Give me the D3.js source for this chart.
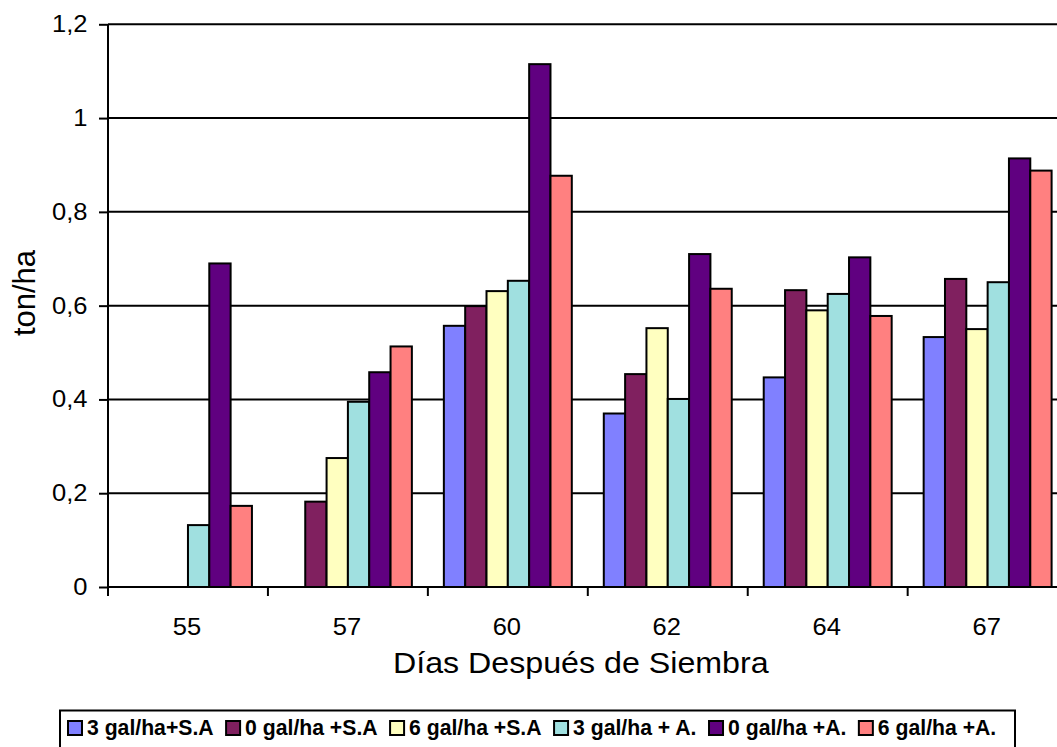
<!DOCTYPE html>
<html>
<head>
<meta charset="utf-8">
<script src="https://cdn.jsdelivr.net/npm/d3@7"></script>
<style>
  html, body { margin: 0; padding: 0; background: #fff; overflow: hidden; }
  svg { display: block; font-family: Arial, "Liberation Sans", sans-serif; }
</style>
</head>
<body>
<svg id="chart" width="1057" height="747"></svg>
<script>
// Días después de siembra
const categories = ["55", "57", "60", "62", "64", "67"];

// Treatments
const seriesNames = ["3 gal/ha+S.A", "0 gal/ha +S.A", "6 gal/ha +S.A", "3 gal/ha + A.", "0 gal/ha +A.", "6 gal/ha +A."];
const seriesColors = ["#8080ff", "#80205f", "#ffffc0", "#a0e0e0", "#600080", "#ff8080"];

// Yield (ton/ha) per treatment, one value per day; null = no bar
const s3galSA = [null, null, 0.557, 0.370, 0.447, 0.533];
const s0galSA = [null, 0.182, 0.599, 0.454, 0.633, 0.657];
const s6galSA = [null, 0.275, 0.631, 0.552, 0.590, 0.550];
const s3galA  = [0.132, 0.395, 0.653, 0.401, 0.625, 0.650];
const s0galA  = [0.690, 0.458, 1.115, 0.710, 0.703, 0.914];
const s6galA  = [0.173, 0.513, 0.877, 0.636, 0.578, 0.888];
const seriesValues = [s3galSA, s0galSA, s6galSA, s3galA, s0galA, s6galA];

const yTicks = [0, 0.2, 0.4, 0.6, 0.8, 1, 1.2];
const xTitle = "Días Después de Siembra";
const yTitle = "ton/ha";

const svg = d3.select("#chart");

const plot = { left: 108, right: 1067.6, top: 24.3, bottom: 587 };
const stretch = 1.11; // text in this chart is set slightly wide

const x = d3.scaleBand().domain(categories).range([plot.left, plot.right]).paddingInner(0).paddingOuter(0);
const xs = d3.scaleBand().domain(seriesNames).range([0, x.bandwidth()]).paddingInner(0).paddingOuter(0.75);
const y = d3.scaleLinear().domain([0, 1.2]).range([plot.bottom, plot.top]);

const fmt = v => String(+v.toFixed(1)).replace(".", ",");

// Horizontal gridlines
svg.append("g")
  .selectAll("line")
  .data(yTicks.filter(v => v > 0))
  .join("line")
  .attr("x1", plot.left).attr("x2", plot.right)
  .attr("y1", d => y(d)).attr("y2", d => y(d))
  .attr("stroke", "#000").attr("stroke-width", 2);

// Bars
const rows = [];
seriesNames.forEach((name, si) => {
  seriesValues[si].forEach((v, ci) => {
    if (v != null) rows.push({ name, color: seriesColors[si], cat: categories[ci], v });
  });
});
svg.append("g")
  .selectAll("rect")
  .data(rows)
  .join("rect")
  .attr("x", d => x(d.cat) + xs(d.name))
  .attr("width", xs.bandwidth())
  .attr("y", d => y(d.v))
  .attr("height", d => y(0) - y(d.v))
  .attr("fill", d => d.color)
  .attr("stroke", "#000")
  .attr("stroke-width", 2);

// Y axis
const yAxis = d3.axisLeft(y).tickValues(yTicks).tickFormat(fmt).tickSize(9).tickPadding(0);
const gy = svg.append("g").attr("transform", `translate(${plot.left},0)`).call(yAxis);
gy.select(".domain").attr("stroke", "#000").attr("stroke-width", 2).attr("d", `M0,${plot.bottom}V${plot.top}`);
gy.selectAll(".tick line").attr("stroke", "#000").attr("stroke-width", 2);
gy.selectAll(".tick text")
  .attr("x", 0)
  .attr("transform", `translate(-20.5,0) scale(${stretch},1)`)
  .attr("font-size", 23).attr("fill", "#000")
  .attr("font-family", "Arial, 'Liberation Sans', sans-serif");

// X axis: ticks at category boundaries, labels at band centres
const gx = svg.append("g").attr("transform", `translate(0,${plot.bottom})`);
gx.append("line").attr("x1", plot.left).attr("x2", plot.right).attr("stroke", "#000").attr("stroke-width", 2);
const bounds = categories.map(c => x(c)).concat([x(categories[categories.length - 1]) + x.bandwidth()]);
gx.selectAll("line.tk").data(bounds).join("line").attr("class", "tk")
  .attr("x1", d => d).attr("x2", d => d).attr("y1", 0).attr("y2", 9)
  .attr("stroke", "#000").attr("stroke-width", 2);
gx.selectAll("text").data(categories).join("text")
  .attr("transform", d => `translate(${x(d) + x.bandwidth() / 2 - 1},48) scale(${stretch},1)`)
  .attr("text-anchor", "middle")
  .attr("font-size", 23)
  .text(d => d);

// Axis titles
svg.append("text")
  .attr("transform", `translate(${(plot.left + plot.right) / 2 - 7},673) scale(${stretch},1)`)
  .attr("text-anchor", "middle")
  .attr("font-size", 29)
  .text(xTitle);

svg.append("text")
  .attr("transform", `translate(35,${293}) rotate(-90)`)
  .attr("text-anchor", "middle")
  .attr("font-size", 31)
  .text(yTitle);

// Legend
const legend = svg.append("g");
legend.append("rect")
  .attr("x", 60).attr("y", 710.5).attr("width", 955).attr("height", 40)
  .attr("fill", "#fff").attr("stroke", "#000").attr("stroke-width", 2);
let lx = 68;
seriesNames.forEach((name, i) => {
  legend.append("rect")
    .attr("x", lx).attr("y", 721).attr("width", 14).attr("height", 14)
    .attr("fill", seriesColors[i]).attr("stroke", "#000").attr("stroke-width", 2);
  const t = legend.append("text")
    .attr("x", lx + 19).attr("y", 735)
    .attr("font-size", 21.2).attr("font-weight", "bold")
    .text(name);
  lx += 19 + t.node().getComputedTextLength() + 12.5;
});
</script>
</body>
</html>
